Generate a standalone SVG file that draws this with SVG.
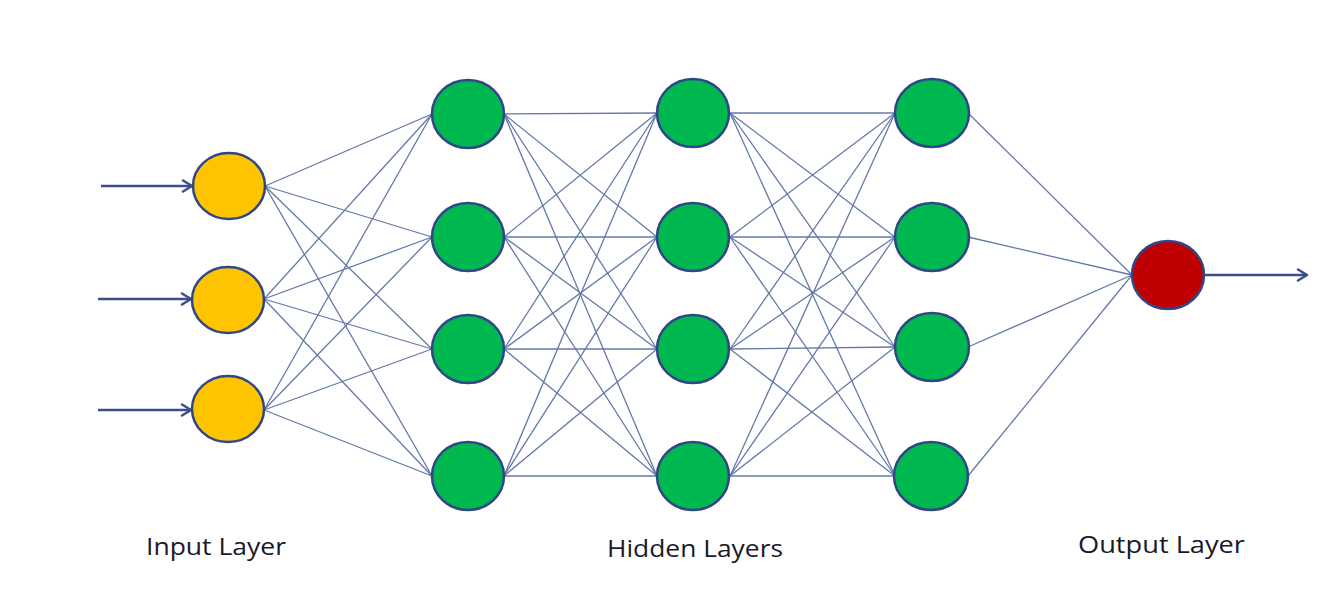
<svg xmlns="http://www.w3.org/2000/svg" width="1332" height="604" viewBox="0 0 1332 604">
<style>
.e{stroke:#6479a8;stroke-width:1.3;fill:none}
.a{stroke:#3a4f8c;stroke-width:2.5;fill:none}
.n{stroke:#2f4688;stroke-width:2.5}
.in{fill:#ffc400}
.hd{fill:#00b850}
.out{fill:#c00000}
.t{font-family:"Open Sans","DejaVu Sans",sans-serif;font-size:24px;fill:#1a1a2a}
</style>
<defs>
<marker id="ah" viewBox="0 0 14 14" refX="12" refY="7" markerWidth="14" markerHeight="14" markerUnits="userSpaceOnUse" orient="auto">
<path d="M3,1.5 L12,7 L3,12.5" fill="none" stroke="#3a4f8c" stroke-width="2.5" stroke-linecap="round" stroke-linejoin="round"/>
</marker>
</defs>
<rect width="1332" height="604" fill="#ffffff"/>
<g id="connectors">
<line class="a" x1="101" y1="186" x2="192" y2="186" marker-end="url(#ah)"/>
<line class="a" x1="98" y1="299" x2="191" y2="299" marker-end="url(#ah)"/>
<line class="a" x1="98" y1="410" x2="191" y2="410" marker-end="url(#ah)"/>
<line class="a" x1="1205" y1="275" x2="1307" y2="275" marker-end="url(#ah)"/>
<g class="e">
<line x1="265" y1="186" x2="432" y2="114"/><line x1="265" y1="186" x2="432" y2="237"/><line x1="265" y1="186" x2="432" y2="349"/><line x1="265" y1="186" x2="432" y2="476"/>
<line x1="264" y1="299" x2="432" y2="114"/><line x1="264" y1="299" x2="432" y2="237"/><line x1="264" y1="299" x2="432" y2="349"/><line x1="264" y1="299" x2="432" y2="476"/>
<line x1="264" y1="410" x2="432" y2="114"/><line x1="264" y1="410" x2="432" y2="237"/><line x1="264" y1="410" x2="432" y2="349"/><line x1="264" y1="410" x2="432" y2="476"/>
</g>
<g class="e">
<line x1="504" y1="114" x2="657" y2="113"/><line x1="504" y1="114" x2="657" y2="237"/><line x1="504" y1="114" x2="657" y2="349"/><line x1="504" y1="114" x2="657" y2="476"/>
<line x1="504" y1="237" x2="657" y2="113"/><line x1="504" y1="237" x2="657" y2="237"/><line x1="504" y1="237" x2="657" y2="349"/><line x1="504" y1="237" x2="657" y2="476"/>
<line x1="504" y1="349" x2="657" y2="113"/><line x1="504" y1="349" x2="657" y2="237"/><line x1="504" y1="349" x2="657" y2="349"/><line x1="504" y1="349" x2="657" y2="476"/>
<line x1="504" y1="476" x2="657" y2="113"/><line x1="504" y1="476" x2="657" y2="237"/><line x1="504" y1="476" x2="657" y2="349"/><line x1="504" y1="476" x2="657" y2="476"/>
</g>
<g class="e">
<line x1="730" y1="113" x2="895" y2="113"/><line x1="730" y1="113" x2="895" y2="237"/><line x1="730" y1="113" x2="895" y2="347"/><line x1="730" y1="113" x2="895" y2="476"/>
<line x1="730" y1="237" x2="895" y2="113"/><line x1="730" y1="237" x2="895" y2="237"/><line x1="730" y1="237" x2="895" y2="347"/><line x1="730" y1="237" x2="895" y2="476"/>
<line x1="730" y1="349" x2="895" y2="113"/><line x1="730" y1="349" x2="895" y2="237"/><line x1="730" y1="349" x2="895" y2="347"/><line x1="730" y1="349" x2="895" y2="476"/>
<line x1="730" y1="476" x2="895" y2="113"/><line x1="730" y1="476" x2="895" y2="237"/><line x1="730" y1="476" x2="895" y2="347"/><line x1="730" y1="476" x2="895" y2="476"/>
</g>
<g class="e">
<line x1="968" y1="113" x2="1132" y2="275"/><line x1="968" y1="237" x2="1132" y2="275"/><line x1="968" y1="347" x2="1132" y2="275"/><line x1="968" y1="476" x2="1132" y2="275"/>
</g>
</g>
<g id="input-1"><ellipse class="n in" cx="229" cy="186" rx="36" ry="33"/></g>
<g id="input-2"><ellipse class="n in" cx="228" cy="300" rx="36" ry="33"/></g>
<g id="input-3"><ellipse class="n in" cx="228" cy="409" rx="36" ry="33"/></g>
<g id="h1-1"><ellipse class="n hd" cx="468" cy="114" rx="36" ry="34"/></g>
<g id="h1-2"><ellipse class="n hd" cx="468" cy="237" rx="36" ry="34"/></g>
<g id="h1-3"><ellipse class="n hd" cx="468" cy="349" rx="36" ry="34"/></g>
<g id="h1-4"><ellipse class="n hd" cx="468" cy="476" rx="36" ry="34"/></g>
<g id="h2-1"><ellipse class="n hd" cx="693" cy="113" rx="36" ry="34"/></g>
<g id="h2-2"><ellipse class="n hd" cx="693" cy="237" rx="36" ry="34"/></g>
<g id="h2-3"><ellipse class="n hd" cx="693" cy="349" rx="36" ry="34"/></g>
<g id="h2-4"><ellipse class="n hd" cx="693" cy="476" rx="36" ry="34"/></g>
<g id="h3-1"><ellipse class="n hd" cx="932" cy="113" rx="37" ry="34"/></g>
<g id="h3-2"><ellipse class="n hd" cx="932" cy="237" rx="37" ry="34"/></g>
<g id="h3-3"><ellipse class="n hd" cx="932" cy="347" rx="37" ry="34"/></g>
<g id="h3-4"><ellipse class="n hd" cx="931" cy="476" rx="37" ry="34"/></g>
<g id="output"><ellipse class="n out" cx="1168" cy="275" rx="36" ry="34"/></g>
<g id="labels">
<text class="t" x="146" y="555" textLength="140" lengthAdjust="spacingAndGlyphs">Input Layer</text>
<text class="t" x="607" y="557" textLength="176" lengthAdjust="spacingAndGlyphs">Hidden Layers</text>
<text class="t" x="1078" y="553" textLength="167" lengthAdjust="spacingAndGlyphs">Output Layer</text>
</g>
</svg>
